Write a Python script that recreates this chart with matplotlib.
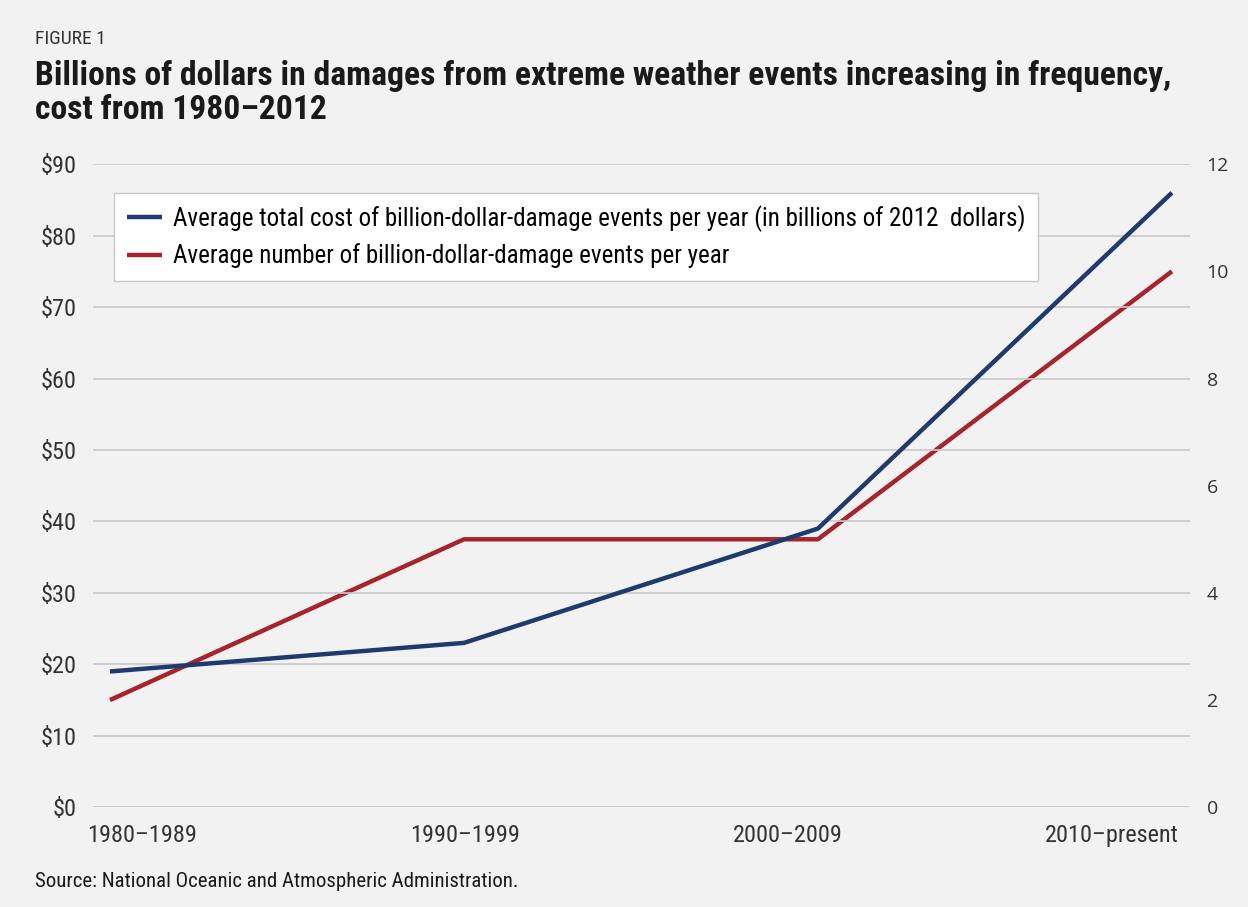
import matplotlib
matplotlib.use('Agg')
import matplotlib.pyplot as plt
from matplotlib import font_manager as fm

# pick a narrow font if the system has one
names = {f.name for f in fm.fontManager.ttflist}
stretches = {(f.name, f.stretch) for f in fm.fontManager.ttflist}
if 'Liberation Sans Narrow' in names:
    plt.rcParams['font.family'] = ['Liberation Sans Narrow', 'DejaVu Sans']
elif 'Roboto Condensed' in names:
    plt.rcParams['font.family'] = ['Roboto Condensed', 'DejaVu Sans']
elif ('DejaVu Sans', 'condensed') in stretches or ('DejaVu Sans', 'semi-condensed') in stretches:
    plt.rcParams['font.family'] = ['DejaVu Sans']
    plt.rcParams['font.stretch'] = 'condensed'
else:
    plt.rcParams['font.family'] = ['Liberation Sans', 'DejaVu Sans']

periods = ['1980\u20131989', '1990\u20131999', '2000\u20132009', '2010\u2013present']
avg_cost = [19, 23, 39, 86]      # billions of 2012 dollars
avg_events = [2, 5, 5, 10]       # events per year
cost_ticks = [0, 10, 20, 30, 40, 50, 60, 70, 80, 90]
event_ticks = [0, 2, 4, 6, 8, 10, 12]

bg = '#f2f2f2'
blue = '#1f3a6e'
red = '#a8242c'

fig = plt.figure(figsize=(12.48, 9.07), dpi=100, facecolor=bg)
ax = fig.add_axes([0.0745, 0.110, 0.879, 0.709])
x = range(len(periods))

ax2 = ax.twinx()
l2, = ax2.plot(x, avg_events, color=red, lw=3.2, solid_capstyle='butt',
               label='Average number of billion-dollar-damage events per year')
ax2.set_ylim(0, 12)
ax2.set_yticks(event_ticks)
for s in ax2.spines.values():
    s.set_visible(False)
ax2.tick_params(length=0, labelsize=14, colors='#333333', pad=12)
for lab in ax2.get_yticklabels():
    lab.set_family(['Open Sans', 'DejaVu Sans'])
    lab.set_stretch('normal')
ax2.set_facecolor(bg)

l1, = ax.plot(x, avg_cost, color=blue, lw=3.2, solid_capstyle='butt', zorder=3,
              label='Average total cost of billion-dollar-damage events per year (in billions of 2012  dollars)')
ax.set_ylim(0, 90)
ax.set_xlim(-0.048, 3.051)
ax.set_yticks(cost_ticks)
ax.set_yticklabels(['$%d' % v for v in cost_ticks])
# category labels sit a bit off the points, as in the original
ax.set_xticks([0.09, 1.003, 1.916, 2.829])
ax.set_xticklabels(periods)
ax.grid(axis='y', color='#c8c8c8', lw=1.2)
ax.set_axisbelow(True)
for s in ax.spines.values():
    s.set_visible(False)
ax.tick_params(length=0, labelsize=17.5, colors='#333333')
ax.tick_params(axis='y', pad=12)
ax.tick_params(axis='x', pad=12)
ax.set_zorder(ax2.get_zorder() + 1)
ax.patch.set_visible(False)

ax.legend(handles=[l1, l2], loc='upper left', bbox_to_anchor=(0.008, 0.975),
          fontsize=18, frameon=True, fancybox=False, edgecolor='#c8c8c8',
          facecolor='white', framealpha=1, handlelength=1.4, borderpad=0.5,
          labelspacing=0.45, handletextpad=0.45)

fig.text(0.028, 0.951, 'FIGURE 1', fontsize=14, color='#333333')
fig.text(0.028, 0.906, 'Billions of dollars in damages from extreme weather events increasing in frequency,',
         fontsize=24.2, fontweight='bold', color='#1a1a1a')
fig.text(0.028, 0.869, 'cost from 1980\u20132012', fontsize=24.2, fontweight='bold', color='#1a1a1a')
fig.text(0.028, 0.022, 'Source: National Oceanic and Atmospheric Administration.',
         fontsize=15, color='#1a1a1a')

fig.savefig('out.png', dpi=100, facecolor=bg)
